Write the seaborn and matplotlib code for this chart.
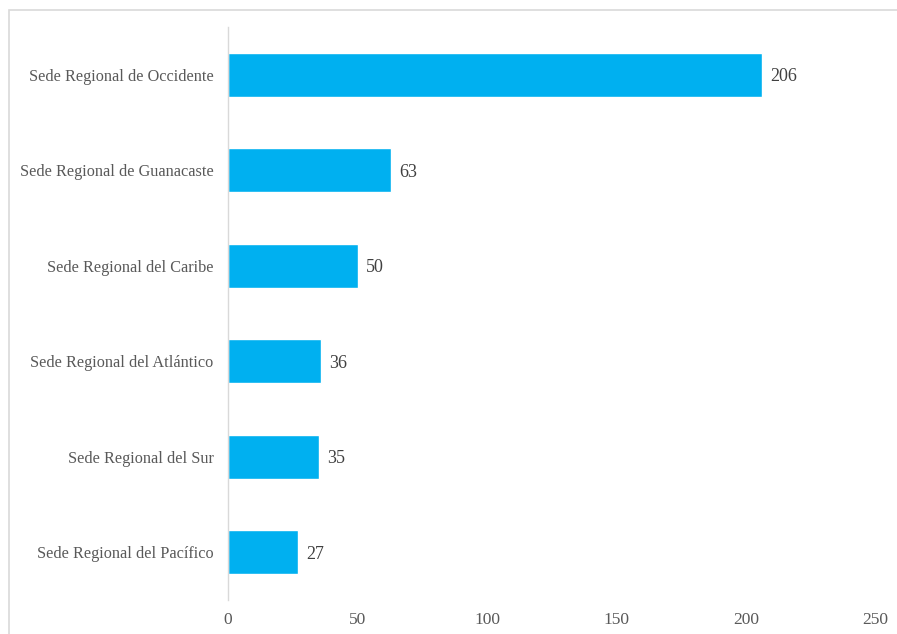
import matplotlib
matplotlib.use("Agg")
import matplotlib.pyplot as plt
import seaborn as sns
import pandas as pd
from matplotlib.patches import Rectangle

categories = ["Sede Regional de Occidente", "Sede Regional de Guanacaste",
              "Sede Regional del Caribe", "Sede Regional del Atlántico",
              "Sede Regional del Sur", "Sede Regional del Pacífico"]
values = [206, 63, 50, 36, 35, 27]
xticks = [0, 50, 100, 150, 200, 250]

sns.set_style("white")
plt.rcParams['font.family'] = ['Liberation Serif', 'DejaVu Serif']

df = pd.DataFrame({"sede": categories, "n": values})

fig = plt.figure(figsize=(8.97, 6.34), dpi=100)
ax = fig.add_axes([0.2542, 0.0536, 0.976 - 0.2542, 0.9574 - 0.0536])
sns.barplot(data=df, x="n", y="sede", orient="h", color="#00B0F0",
            saturation=1, width=0.46, ax=ax)

ax.set_xlim(0, 250)
ax.set_ylim(5.5, -0.5)
ax.set_xticks(xticks)
ax.set_xticklabels([str(t) for t in xticks])
ax.set_xlabel("")
ax.set_ylabel("")
ax.tick_params(axis="y", length=0, labelsize=11.7, colors="#595959", pad=10.5)
ax.tick_params(axis="x", length=0, labelsize=12.5, colors="#595959", pad=8.5)
for s in ["top", "right", "bottom"]:
    ax.spines[s].set_visible(False)
ax.spines["left"].set_color("#d9d9d9")
ax.spines["left"].set_linewidth(1)

for i, v in enumerate(values):
    ax.annotate(str(v), (v, i), xytext=(6, 0), textcoords="offset points",
                va="center_baseline", ha="left", fontsize=13, color="#404040")

fig.patches.append(Rectangle((9 / 897, -0.1), 1.2, 1 - 10 / 634 + 0.1,
                             transform=fig.transFigure, fill=False,
                             edgecolor="#d9d9d9", linewidth=1.2))

fig.savefig("out.png", dpi=100)
